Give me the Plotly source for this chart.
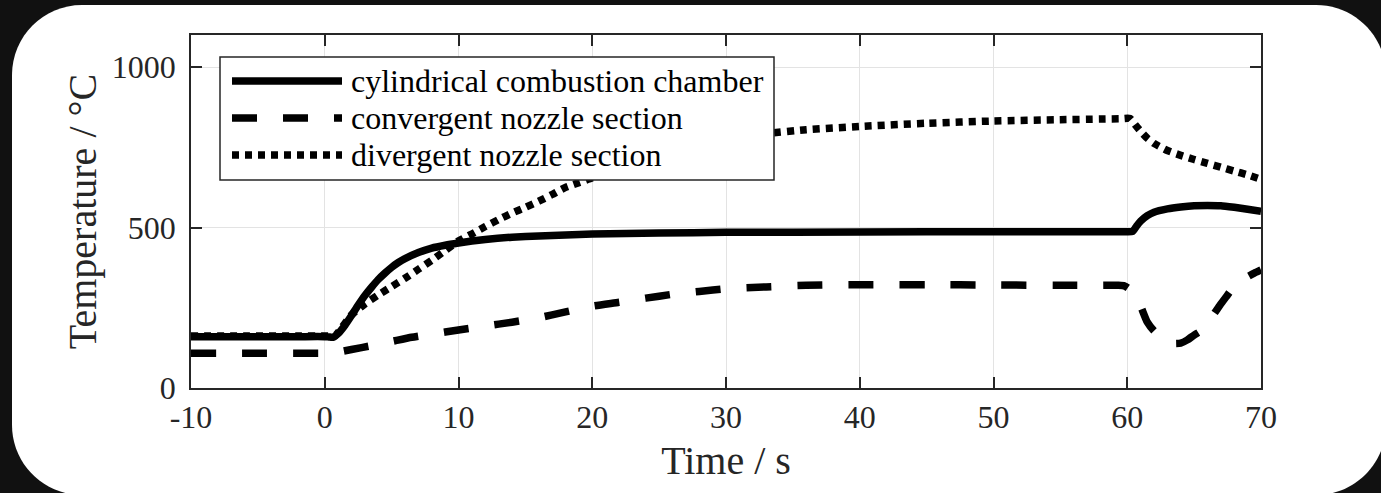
import plotly.graph_objects as go

# Temperature histories (time in s, temperature in °C)
t_cyl = [-10, -6, -2, 0, 0.3, 0.6, 1.0, 1.5, 2.0, 2.5, 3.0, 3.5, 4.0, 4.5, 5.0, 5.5,
         6.0, 7.0, 8.0, 9.0, 10.0, 11.0, 12.0, 14.0, 16.0, 18.0, 20.0, 25.0, 30.0,
         40.0, 50.0, 58.0, 59.5, 60.0, 60.4, 60.7, 61.0, 61.5, 62.0, 63.0, 64.0,
         65.0, 66.0, 67.0, 68.0, 69.0, 70.0]
T_cyl = [160, 160, 160, 160, 159, 158, 170, 195, 226, 258, 288, 314, 338, 358, 376,
         391, 403, 422, 436, 445, 452, 458, 463, 470, 474, 477, 480, 483, 485,
         486, 487, 487, 487, 487, 488, 505, 520, 537, 548, 558, 564,
         568, 569, 568, 563, 557, 551]

t_conv = [-10, -6, -2, 0, 0.5, 2, 3.5, 5, 6.5, 8, 10, 12, 14, 16, 18, 20, 22, 24, 26,
          28, 30, 33, 36, 40, 45, 50, 55, 58, 59.3, 59.8, 60.4, 61.0, 61.5, 62.0,
          62.5, 63.0, 63.5, 64.0, 64.5, 65.0, 65.5, 66.0, 66.5, 67.0, 67.5, 68.0,
          68.5, 69.0, 69.5, 70]
T_conv = [108, 108, 108, 108, 108, 120, 132, 145, 158, 168, 181, 193, 205, 219, 237,
          255, 267, 280, 292, 301, 309, 315, 320, 322, 322, 321, 320, 320, 320, 318,
          300, 255, 205, 178, 160, 147, 139, 140, 150, 165, 178, 205, 232, 262,
          290, 318, 335, 347, 358, 368]

t_div = [-10, -6, -2, 0, 0.4, 0.8, 2, 3, 4, 5, 6, 7, 8, 9, 10, 11, 12, 13, 14, 15,
         16, 17, 18, 19, 20, 22, 24, 26, 28, 30, 33, 36, 40, 45, 50, 55, 58, 59.5,
         60.2, 60.6, 61.0, 61.5, 62.0, 63.0, 64.0, 65.0, 66.0, 67.0, 68.0, 69.0, 70.0]
T_div = [162, 162, 162, 162, 162, 164, 228, 262, 290, 316, 342, 370, 398, 428, 458,
         480, 503, 525, 545, 563, 582, 603, 625, 640, 655, 690, 718, 742, 762, 777,
         793, 805, 815, 825, 832, 836, 838, 839, 840, 820, 800, 778, 762, 740, 725,
         712, 700, 688, 676, 664, 650]

series_names = ["cylindrical combustion chamber", "convergent nozzle section",
                "divergent nozzle section"]

x_ticks = [-10, 0, 10, 20, 30, 40, 50, 60, 70]
x_tick_text = ["-10", "0", "10", "20", "30", "40", "50", "60", "70"]
y_ticks = [0, 500, 1000]
y_tick_text = ["0", "500", "1000"]

# figure geometry (pixels)
W, H = 1381, 493
ML, MR, MT, MB = 191, 120, 35, 105
PW, PH = W - ML - MR, H - MT - MB

FONT = "Liberation Serif"
AX = "#262626"
LW = 7.5
DASH = "25px,26px"
DOT = "7px,6px"


def px(x):
    return (x - ML) / PW


def py(y):
    return (H - MB - y) / PH


fig = go.Figure()
fig.add_trace(go.Scatter(x=t_div, y=T_div, mode="lines", name=series_names[2],
                         line=dict(color="black", width=LW, dash=DOT,
                                   shape="spline", smoothing=0.5)))
fig.add_trace(go.Scatter(x=t_conv, y=T_conv, mode="lines", name=series_names[1],
                         line=dict(color="black", width=LW, dash=DASH,
                                   shape="spline", smoothing=0.5)))
fig.add_trace(go.Scatter(x=t_cyl, y=T_cyl, mode="lines", name=series_names[0],
                         line=dict(color="black", width=LW,
                                   shape="spline", smoothing=0.5)))

# rounded white card behind the axes
x0, x1, y0, y1, r = 12, 1386, 5, 495, 70
k = 0.5523 * r
pts = [
    ("M", [(x0 + r, y0)]),
    ("L", [(x1 - r, y0)]),
    ("C", [(x1 - r + k, y0), (x1, y0 + r - k), (x1, y0 + r)]),
    ("L", [(x1, y1 - r)]),
    ("C", [(x1, y1 - r + k), (x1 - r + k, y1), (x1 - r, y1)]),
    ("L", [(x0 + r, y1)]),
    ("C", [(x0 + r - k, y1), (x0, y1 - r + k), (x0, y1 - r)]),
    ("L", [(x0, y0 + r)]),
    ("C", [(x0, y0 + r - k), (x0 + r - k, y0), (x0 + r, y0)]),
]
path = ""
for cmd, coords in pts:
    path += cmd + " ".join(f"{px(a):.5f},{py(b):.5f}" for a, b in coords) + " "
path += "Z"
fig.add_shape(type="path", path=path, xref="paper", yref="paper",
              fillcolor="white", line=dict(width=0), layer="below")

# legend box with long line samples
lx0, lx1, ly0, ly1 = 220, 774, 57, 180
fig.add_shape(type="rect", xref="paper", yref="paper",
              x0=px(lx0), x1=px(lx1), y0=py(ly1), y1=py(ly0),
              fillcolor="white", line=dict(color=AX, width=1.5), layer="above")
rows = [81, 118, 155]
dashes = ["solid", DASH, DOT]
for yrow, d, name in zip(rows, dashes, series_names):
    fig.add_shape(type="line", xref="paper", yref="paper",
                  x0=px(232), x1=px(342), y0=py(yrow), y1=py(yrow),
                  line=dict(color="black", width=LW, dash=d), layer="above")
    fig.add_annotation(x=px(349), y=py(yrow), xref="paper", yref="paper",
                       text=name, showarrow=False, xanchor="left", yanchor="middle",
                       font=dict(family=FONT, size=32, color="black"))

axis_common = dict(
    showline=True, linecolor=AX, linewidth=1.5, mirror="ticks",
    ticks="inside", ticklen=11, tickwidth=1.5, tickcolor=AX,
    showgrid=True, gridcolor="#e3e3e3", gridwidth=1.2, zeroline=False,
    tickfont=dict(family=FONT, size=32, color=AX),
)

fig.update_xaxes(range=[-10, 70], tickvals=x_ticks, ticktext=x_tick_text,
                 ticklabelstandoff=0,
                 title=dict(text="Time / s", standoff=12,
                            font=dict(family=FONT, size=40, color=AX)),
                 **axis_common)
fig.update_yaxes(range=[0, 1100], tickvals=y_ticks, ticktext=y_tick_text,
                 ticklabelstandoff=7,
                 title=dict(text="Temperature / °C", standoff=3,
                            font=dict(family=FONT, size=40, color=AX)),
                 **axis_common)

fig.update_layout(
    width=W, height=H,
    margin=dict(l=ML, r=MR, t=MT, b=MB, autoexpand=False),
    paper_bgcolor="#111111", plot_bgcolor="white",
    showlegend=False,
)

fig.write_html("out.html")
